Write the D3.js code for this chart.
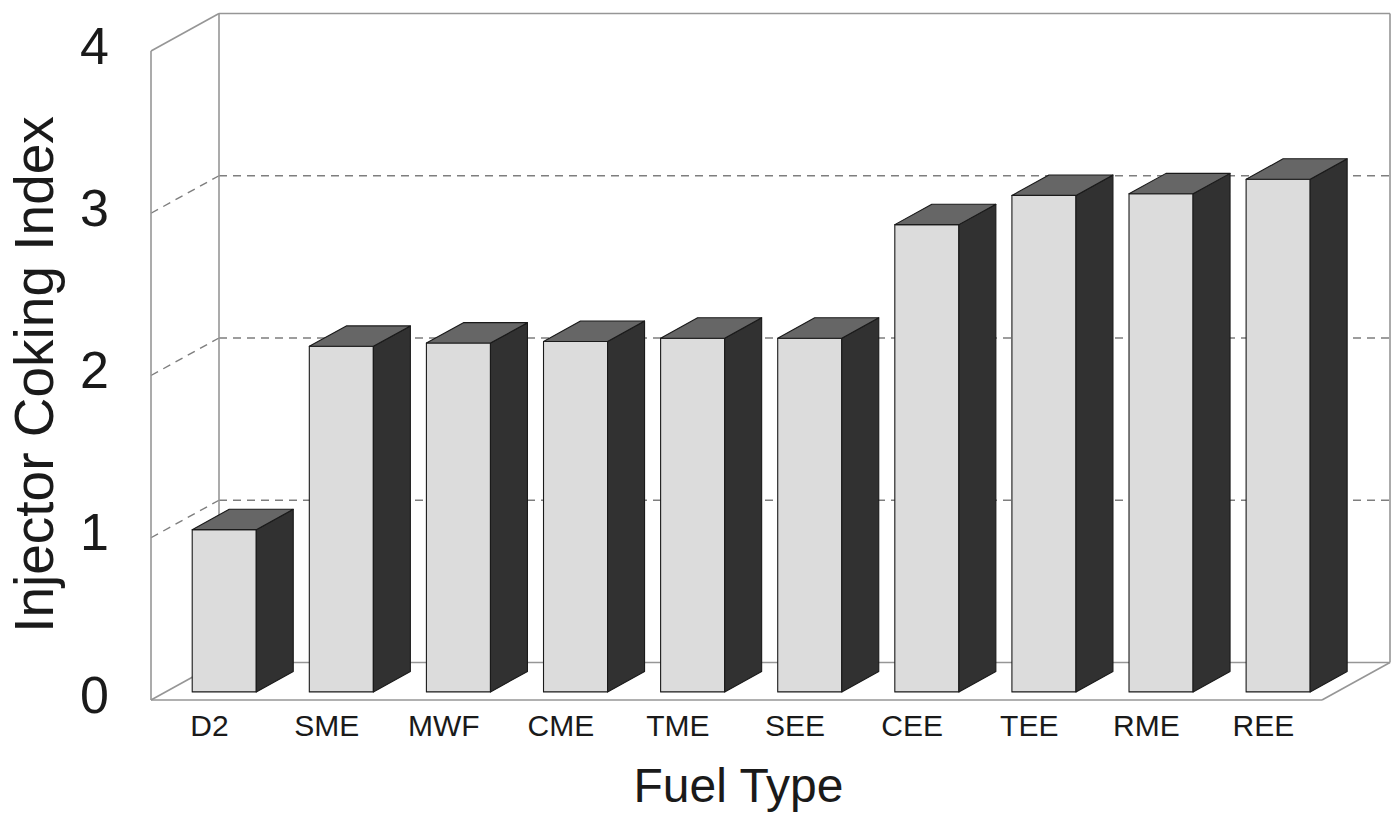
<!DOCTYPE html>
<html>
<head>
<meta charset="utf-8">
<script src="https://cdn.jsdelivr.net/npm/d3@7"></script>
<style>
  html, body { margin: 0; padding: 0; background: #fff; }
  svg { display: block; }
  text { font-family: "Liberation Sans", Arial, sans-serif; fill: #1a1a1a; }
</style>
</head>
<body>
<svg id="chart" width="1400" height="820"></svg>
<script>
// Injector coking index by fuel type
const categories = ["D2", "SME", "MWF", "CME", "TME", "SEE", "CEE", "TEE", "RME", "REE"];
const values = [1.00, 2.13, 2.15, 2.16, 2.18, 2.18, 2.88, 3.06, 3.07, 3.16];
const yTicks = [0, 1, 2, 3, 4];
const yTitle = "Injector Coking Index";
const xTitle = "Fuel Type";

const svg = d3.select("#chart");

// Front plane of the 3D box
const plotLeft = 151, plotRight = 1322, plotBottom = 700, plotTop = 51;
// Oblique depth offset of the back plane
const depthDX = 68, depthDY = 37.5;

const y = d3.scaleLinear().domain([0, 4]).range([plotBottom, plotTop]);
const x = d3.scaleBand().domain(categories).range([plotLeft, plotRight])
  .paddingInner(0.453).paddingOuter(0.2265);

// project a point on the front plane back by depth fraction z (0 = front, 1 = back)
const proj = (px, py, z) => [px + z * depthDX, py - z * depthDY];
const pathOf = pts => "M" + pts.map(p => p.join(",")).join("L") + "Z";
const lineOf = pts => "M" + pts.map(p => p.join(",")).join("L");

const frame = svg.append("g").attr("fill", "none");
const frameColor = "#969696";
const gridColor = "#7e7e7e";

// back-wall gridlines and left-wall tick lines
yTicks.filter(t => t > 0 && t < 4).forEach(t => {
  const f = [plotLeft, y(t)];
  const b = proj(plotLeft, y(t), 1);
  const br = proj(plotRight, y(t), 1);
  frame.append("path").attr("d", lineOf([f, b]))
    .attr("stroke", gridColor).attr("stroke-width", 1.4).attr("stroke-dasharray", "8,6");
  frame.append("path").attr("d", lineOf([b, br]))
    .attr("stroke", gridColor).attr("stroke-width", 1.4).attr("stroke-dasharray", "8,6");
});

// walls and floor outline
const fl0 = [plotLeft, y(0)], fr0 = [plotRight, y(0)], fl4 = [plotLeft, y(4)];
const bl0 = proj(plotLeft, y(0), 1), br0 = proj(plotRight, y(0), 1);
const bl4 = proj(plotLeft, y(4), 1), br4 = proj(plotRight, y(4), 1);
[
  [fl0, fl4], [fl4, bl4], [bl4, bl0], [bl4, br4], [br4, br0],
  [fl0, fr0], [bl0, br0], [fl0, bl0], [fr0, br0]
].forEach(seg => {
  frame.append("path").attr("d", lineOf(seg))
    .attr("stroke", frameColor).attr("stroke-width", 1.6);
});

// bars: front, side and top faces
const z0 = 0.216, z1 = 0.76;
const data = categories.map((c, i) => ({ c, v: values[i] }));
const bars = svg.append("g").selectAll("g").data(data).join("g")
  .attr("stroke", "#1a1a1a").attr("stroke-width", 1.1).attr("stroke-linejoin", "round");

bars.each(function(d) {
  const g = d3.select(this);
  const xl = x(d.c), xr = x(d.c) + x.bandwidth();
  const yb = y(0), yt = y(d.v);
  const fBL = proj(xl, yb, z0), fBR = proj(xr, yb, z0);
  const fTL = proj(xl, yt, z0), fTR = proj(xr, yt, z0);
  const bBR = proj(xr, yb, z1), bTR = proj(xr, yt, z1), bTL = proj(xl, yt, z1);
  g.append("path").attr("d", pathOf([fBL, fBR, fTR, fTL])).attr("fill", "#dcdcdc");
  g.append("path").attr("d", pathOf([fBR, bBR, bTR, fTR])).attr("fill", "#313131");
  g.append("path").attr("d", pathOf([fTL, fTR, bTR, bTL])).attr("fill", "#666666");
});

// y tick labels
svg.append("g").selectAll("text").data(yTicks).join("text")
  .attr("x", 109).attr("y", d => y(d) + 12.5)
  .attr("text-anchor", "end").attr("font-size", 52)
  .text(d => d);

// category labels
svg.append("g").selectAll("text").data(categories).join("text")
  .attr("x", d => x(d) + x.bandwidth() / 2)
  .attr("y", 736)
  .attr("text-anchor", "middle").attr("font-size", 30)
  .text(d => d);

// axis titles
svg.append("text")
  .attr("transform", `translate(53,${(plotTop + plotBottom) / 2 - 1}) rotate(-90)`)
  .attr("text-anchor", "middle").attr("font-size", 55)
  .text(yTitle);

svg.append("text")
  .attr("x", (plotLeft + plotRight) / 2 + 2).attr("y", 802)
  .attr("text-anchor", "middle").attr("font-size", 48)
  .text(xTitle);
</script>
</body>
</html>
